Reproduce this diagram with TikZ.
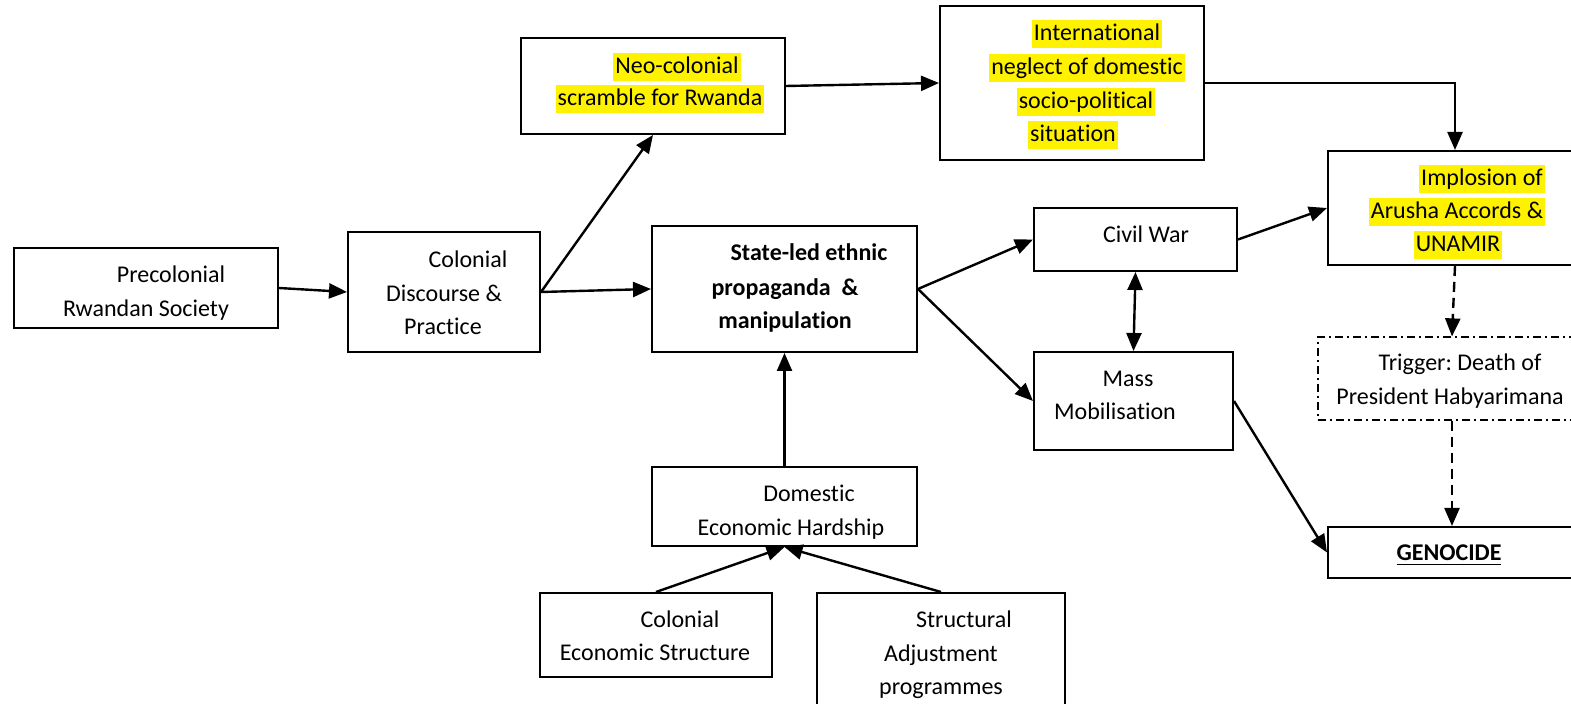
\documentclass[tikz,border=0pt]{standalone}
\usepackage{fontspec}
\setmainfont[Ligatures=NoCommon]{Carlito}
\usetikzlibrary{arrows.meta,fit}
\frenchspacing
\begin{document}
\begin{tikzpicture}[x=0.5pt,y=-0.5pt,
 >={Triangle[length=9pt,width=7.5pt]},
 box/.style={draw,line width=1pt,inner sep=0pt},
 dbox/.style={draw,line width=0.6pt,inner sep=0pt,dash pattern=on 4pt off 2pt on 1pt off 2pt},
 txt/.style={inner sep=0pt,yshift=-1pt,text height=10.5pt,text depth=3.5pt,font=\fontsize{12}{17}\selectfont},
 hl/.style={txt,fill=yellow,inner xsep=1pt},
 bt/.style={txt,font=\fontsize{12}{17}\selectfont\bfseries},
 arr/.style={line width=1.2pt,->},
 darr/.style={arr,dash pattern=on 5pt off 3pt}]
\useasboundingbox (0,0) rectangle (1571,704);
\fill[white] (0,0) rectangle (1571,704);
\clip (0,0) rectangle (1571,704);
% boxes
\node[box,fit={(14,248)(278,328)}] (prec) {};
\node[box,fit={(348,232)(540,352)}] (col) {};
\node[box,fit={(521,38)(785,134)}] (neo) {};
\node[box,fit={(940,6)(1204,160)}] (intl) {};
\node[box,fit={(652,226)(917,352)}] (state) {};
\node[box,fit={(1034,208)(1237,271)}] (civil) {};
\node[box,fit={(1034,352)(1233,450)}] (mass) {};
\node[box,fit={(1328,151)(1582,265)}] (impl) {};
\node[dbox,fit={(1318,337)(1586,420)}] (trig) {};
\node[box,fit={(1328,527)(1576,578)}] (geno) {};
\node[box,fit={(652,467)(917,546)}] (dom) {};
\node[box,fit={(540,593)(772,677)}] (colec) {};
\node[box,fit={(817,593)(1065,720)}] (struct) {};
% texts
\node[txt] (prec1) at (171,274) {Precolonial};
\node[txt] (prec2) at (146,308) {Rwandan Society};
\node[txt] (col1) at (468,259) {Colonial};
\node[txt] (col2) at (444,293) {Discourse \&};
\node[txt] (col3) at (443,326) {Practice};
\node[hl] (neo1) at (677,65) {Neo-colonial};
\node[hl] (neo2) at (660,97) {scramble for Rwanda};
\node[hl] (intl1) at (1097,32) {International};
\node[hl] (intl2) at (1087,66) {neglect of domestic};
\node[hl] (intl3) at (1086,100) {socio-political};
\node[hl] (intl4) at (1073,133) {situation};
\node[bt] (state1) at (809,252) {State-led ethnic};
\node[bt] (state2) at (785,287) {propaganda~~\&};
\node[bt] (state3) at (785,320) {manipulation};
\node[txt] (civil1) at (1146,234) {Civil War};
\node[txt] (mass1) at (1128,378) {Mass};
\node[txt] (mass2) at (1115,411) {Mobilisation};
\node[hl] (impl1) at (1482,177) {Implosion of};
\node[hl] (impl2) at (1457,210) {Arusha Accords \&};
\node[hl] (impl3) at (1458,243) {UNAMIR};
\node[txt] (trig1) at (1460,362) {Trigger: Death of};
\node[txt] (trig2) at (1450,396) {President Habyarimana};
\node[bt] (geno1) at (1449,552) {\underline{GENOCIDE}};
\node[txt] (dom1) at (809,493) {Domestic};
\node[txt] (dom2) at (791,527) {Economic Hardship};
\node[txt] (colec1) at (680,619) {Colonial};
\node[txt] (colec2) at (655,652) {Economic Structure};
\node[txt] (struct1) at (964,619) {Structural};
\node[txt] (struct2) at (941,653) {Adjustment};
\node[txt] (struct3) at (941,686) {programmes};
% connectors
\draw[arr] (prec.east) -- (col.west);
\draw[arr] (col.east) -- (state.west);
\draw[arr] (col.east) -- (neo.south);
\draw[arr] (neo.east) -- (intl.west);
\draw[arr] (intl.east) -| (impl.north);
\draw[arr] (state.east) -- (civil.west);
\draw[arr] (state.east) -- (mass.west);
\draw[line width=1.2pt,<->] (civil.south) -- (mass.north);
\draw[arr] (civil.east) -- (impl.west);
\draw[arr] (mass.east) -- (geno.west);
\draw[darr] (impl.south) -- (trig.north);
\draw[darr] (trig.south) -- (geno.north);
\draw[arr] (dom.north) -- (state.south);
\draw[arr] (colec.north) -- (dom.south);
\draw[arr] (struct.north) -- (dom.south);
\end{tikzpicture}
\end{document}
